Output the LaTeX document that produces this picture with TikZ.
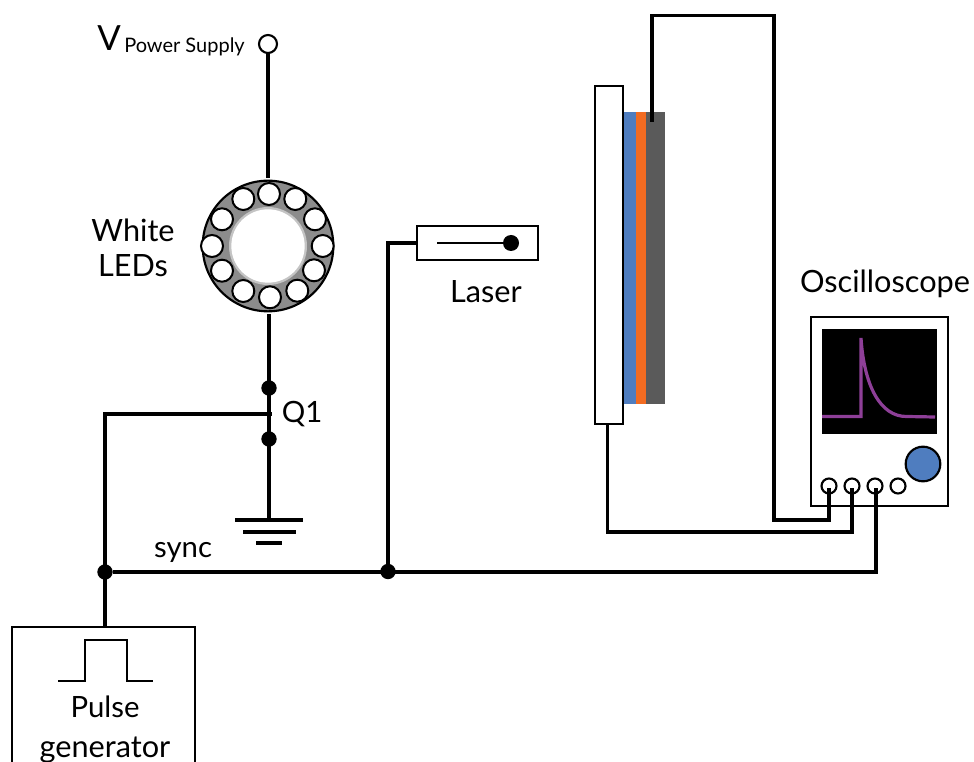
\documentclass[tikz,border=0pt]{standalone}
\usepackage{fontspec}
\setmainfont{Lato}
\usetikzlibrary{calc}
\definecolor{ledgray}{HTML}{8C8C8C}
\definecolor{innergray}{HTML}{C4C4C4}
\definecolor{layerblue}{HTML}{4F7DBF}
\definecolor{layerorange}{HTML}{F26B21}
\definecolor{layerdark}{HTML}{5A5A5A}
\definecolor{tracecol}{HTML}{8E3F98}
\tikzset{
  wire/.style={draw=black,line width=2.5pt,line join=miter},
  box/.style={draw=black,line width=1.6pt,fill=white,inner sep=0pt,outer sep=0pt,anchor=north west},
  led/.style={circle,draw=black,line width=1.5pt,fill=white,minimum size=16.5pt,inner sep=0pt,outer sep=0pt},
  dot/.style={circle,fill=black,minimum size=11.5pt,inner sep=0pt,outer sep=0pt},
  port/.style={circle,draw=black,line width=1.6pt,fill=white,minimum size=11.25pt,inner sep=0pt,outer sep=0pt},
  lbl/.style={inner sep=0pt,font=\fontsize{23}{26}\selectfont,align=center,text=black},
  layer/.style={inner sep=0pt,outer sep=0pt,draw=none,anchor=north west,minimum height=219pt},
}
\begin{document}
\begin{tikzpicture}[x=0.75pt,y=-0.75pt]
\useasboundingbox (0,0) rectangle (974,762);
\fill[white] (0,0) rectangle (974,762);
% LED ring and rail
\node[port,minimum size=13.5pt] (vs) at (268,44) {};
\node[circle,draw=black,line width=1.6pt,fill=ledgray,minimum size=98pt,inner sep=0pt,outer sep=0pt] (ring) at (268,246) {};
\node[circle,fill=innergray,minimum size=58.5pt,inner sep=0pt] (ringb) at (268,246) {};
\node[circle,fill=white,minimum size=55pt,inner sep=0pt] (ringc) at (268,246) {};
\foreach \n/\x/\y in {a/269/194,b/243.3/199,c/222/219.3,d/212/246,e/222/270.7,f/243.3/291,g/270/297.3,h/297.3/290.7,i/314/270.3,j/322.7/246,k/315/219.3,l/295.3/199}
  \node[led] (\n) at (\x,\y) {};
\draw[wire] (vs) -- (268,178);
\node[dot] (d1) at (269,388) {};
\node[dot] (d2) at (269,439) {};
\coordinate (gnd) at (269,520);
\coordinate (qin) at (272,414);
\draw[wire] (269,314) -- (gnd);
\coordinate (g1l) at (235,520); \coordinate (g1r) at (303,520);
\coordinate (g2l) at (243,532); \coordinate (g2r) at (296,532);
\coordinate (g3l) at (256,543); \coordinate (g3r) at (282,543);
\draw[wire] (g1l) -- (g1r);
\draw[wire] (g2l) -- (g2r);
\draw[wire] (g3l) -- (g3r);
% pulse generator
\node[box,minimum width=137.25pt,minimum height=120pt] (pg) at (12,627) {};
\coordinate (pgtop) at (105,627);
\node[dot] (j1) at (105,572) {};
\node[dot] (j2) at (388,571.5) {};
\draw[wire] (pgtop) -- (105,414) -- (qin);
\draw[line width=2pt] (58,681) -- (85,681) -- (85,640) -- (127,640) -- (127,681) -- (153,681);
% laser
\node[box,minimum width=90.75pt,minimum height=25.5pt] (laser) at (417,226) {};
\node[circle,fill=black,minimum size=12pt,inner sep=0pt] (ld) at (511,243) {};
\coordinate (ls) at (437,243);
\draw[line width=2pt] (ls) -- (ld);
\draw[wire] (laser.west) -| (j2);
% sample
\node[box,minimum width=21pt,minimum height=253.5pt] (glass) at (595,86) {};
\node[layer,fill=layerblue,minimum width=9pt] (lb) at (623.5,112) {};
\node[layer,fill=layerorange,minimum width=7.5pt] (lo) at (635.5,112) {};
\node[layer,fill=layerdark,minimum width=14.25pt] (ld2) at (645.5,112) {};
\coordinate (el) at (652,122);
% oscilloscope
\node[box,minimum width=103pt,minimum height=141.75pt] (osc) at (811,317) {};
\node[fill=black,inner sep=0pt,outer sep=0pt,anchor=north west,minimum width=86.25pt,minimum height=78.75pt] (screen) at (822,329) {};
\draw[tracecol,line width=2.4pt,line join=miter] (822,416.5) -- (861,416.5) -- (861,338)
  .. controls (864,385) and (880,417) .. (907,416.5) -- (935,417);
\node[circle,draw=black,line width=1.6pt,fill=layerblue,minimum size=26pt,inner sep=0pt] (knob) at (923,464) {};
\node[port] (p1) at (829,486) {};
\node[port] (p2) at (852,486) {};
\node[port] (p3) at (875,486) {};
\node[port] (p4) at (898,486) {};
% long wires
\draw[wire] (el) -- (652,15.5) -- (774,15.5) -- (774,520) -- (829,520) -- (829,488);
\draw[wire] (607.5,424) -- (607.5,532) -- (852,532) -- (852,488);
\draw[wire] (j1) -- (876,572) -- (876,488);
% labels
\node[lbl,anchor=base west,font=\fontsize{26}{30}\selectfont] (vlab) at (97,51) {V};
\node[lbl,anchor=base west,font=\fontsize{15}{17}\selectfont] (vsub) at (124,53) {Power Supply};
\node[lbl] (wl) at (133,248) {White\\LEDs};
\node[lbl,font=\fontsize{22}{26}\selectfont] (q1) at (302,414) {Q1};
\node[lbl,font=\fontsize{22}{26}\selectfont] (sync) at (183,552) {sync};
\node[lbl] (lt) at (486,292) {Laser};
\node[lbl] (ot) at (885,284) {Oscilloscope};
\node[lbl,anchor=base,font=\fontsize{22}{26}\selectfont] (pl) at (105,717) {Pulse};
\node[lbl,anchor=base] (gl) at (105,757) {generator};
\end{tikzpicture}
\end{document}
